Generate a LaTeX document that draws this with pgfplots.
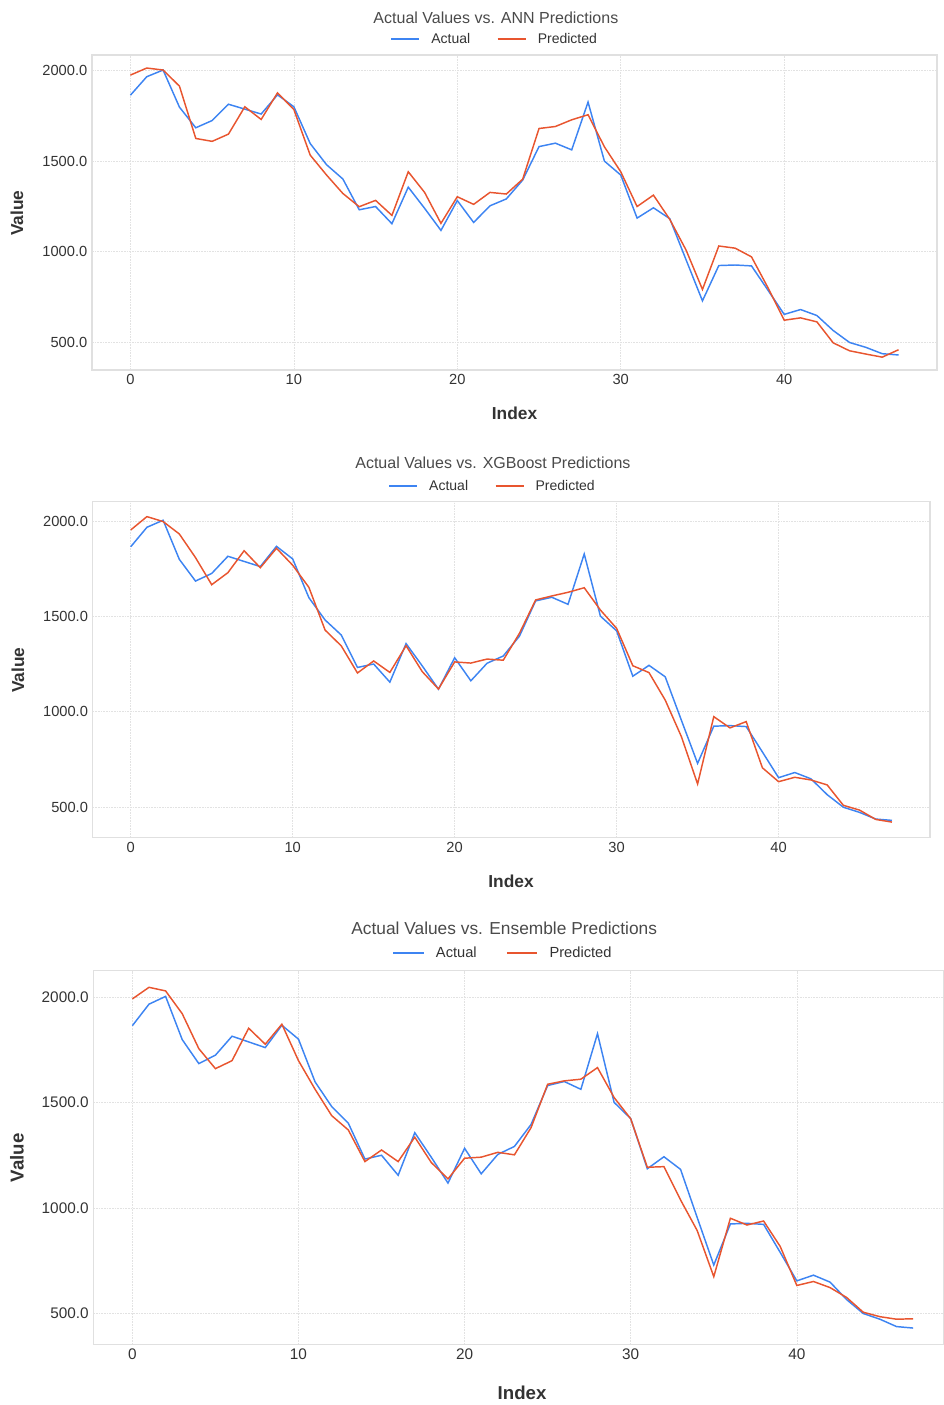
\documentclass[border=0pt]{standalone}
\usepackage{fontspec}
\setmainfont{Liberation Sans}
\usepackage{pgfplots}
\usepackage{pgfplotstable}
\pgfplotsset{compat=1.18}
\definecolor{actblue}{HTML}{3D84F2}
\definecolor{predred}{HTML}{E8552F}
\definecolor{gridgray}{HTML}{E2E2E2}
\definecolor{framegray}{HTML}{E0E0E0}
\definecolor{txtgray}{HTML}{333333}
\definecolor{titlegray}{HTML}{4A4A4A}

\pgfplotstableread{
idx actual ann xgb ens
0 1865 1976 1953 1992
1 1967 2015 2023 2047
2 2004 2004 1997 2030
3 1799 1915 1932 1922
4 1685 1626 1808 1756
5 1725 1610 1666 1661
6 1815 1650 1729 1699
7 1788 1801 1844 1853
8 1761 1731 1755 1777
9 1867 1878 1857 1872
10 1801 1786 1768 1699
11 1598 1534 1652 1563
12 1481 1424 1428 1438
13 1402 1322 1345 1370
14 1232 1249 1203 1220
15 1250 1284 1266 1275
16 1155 1201 1206 1220
17 1357 1442 1346 1336
18 1240 1328 1210 1215
19 1118 1157 1119 1138
20 1283 1304 1261 1236
21 1162 1262 1255 1241
22 1254 1328 1276 1264
23 1292 1319 1270 1252
24 1396 1401 1411 1381
25 1581 1681 1586 1587
26 1600 1692 1607 1603
27 1563 1729 1626 1611
28 1827 1757 1650 1666
29 1501 1580 1533 1524
30 1424 1442 1437 1423
31 1186 1250 1241 1193
32 1243 1313 1205 1196
33 1183 1179 1061 1038
34 955 1009 869 893
35 729 792 621 674
36 924 1032 974 951
37 927 1020 915 919
38 922 972 948 938
39 789 803 706 817
40 654 622 633 632
41 681 635 656 651
42 648 613 642 622
43 565 497 616 575
44 499 453 509 505
45 472 435 484 484
46 437 418 435 472
47 430 459 421 474
}\datatable

\pgfplotsset{
  mystyle/.style={
    scale only axis,
    xmin=-2.35, xmax=49.35,
    xtick={0,10,20,30,40},
    ytick={500,1000,1500,2000},
    grid=major,
    major grid style={gridgray, line width=0.5pt, dash pattern=on 1.2pt off 0.8pt},
    axis line style={framegray, line width=1pt},
    major tick length=0pt,
    every axis title shift=0pt,
    tick label style={font=\fontsize{11}{13}\selectfont, text=txtgray},
    /pgf/number format/assume math mode=true,
    y tick label style={/pgf/number format/.cd, fixed, fixed zerofill, precision=1, 1000 sep={}},
    xlabel={Index},
    ylabel={Value},
    label style={font=\fontsize{13}{15}\selectfont\bfseries, text=txtgray},
    legend cell align=left,
    legend image code/.code={\draw[#1] (0pt,0pt) -- (21pt,0pt);},
    every axis plot/.append style={line width=1.1pt},
  }
}

\begin{document}
\begin{tikzpicture}
\useasboundingbox (0,0) rectangle (708pt,-1053.75pt);

% ---------- ANN ----------
\begin{axis}[mystyle,
  at={(69pt,-41.25pt)}, anchor=north west,
  width=633.75pt, height=236.25pt,
  ymin=347, ymax=2087,
  title={Actual Values vs. ANN Predictions},
  title style={at={(axis description cs:0.478,1.117)}, anchor=center, font=\fontsize{12}{14}\selectfont, text=titlegray},
  xlabel style={at={(axis description cs:0.5,-0.137)}, anchor=center},
  ylabel style={at={(axis description cs:-0.0888,0.498)}, anchor=center},
  legend style={at={(axis description cs:0.477,1.051)}, anchor=center, draw=none, fill=none,
    legend columns=2, font=\fontsize{10.5}{12}\selectfont, text=txtgray,
    /tikz/every odd column/.append style={column sep=6.5pt},
    /tikz/every even column/.append style={column sep=18pt}},
]
\addplot[actblue] table[x=idx, y=actual] {\datatable};
\addlegendentry{Actual}
\addplot[predred] table[x=idx, y=ann] {\datatable};
\addlegendentry{Predicted}
\end{axis}

% ---------- XGBoost ----------
\begin{axis}[mystyle,
  at={(69.5pt,-376.3pt)}, anchor=north west,
  width=628pt, height=252pt,
  ymin=339, ymax=2101,
  title={Actual Values vs. XGBoost Predictions},
  title style={at={(axis description cs:0.478,1.115)}, anchor=center, font=\fontsize{12}{14}\selectfont, text=titlegray},
  xlabel style={at={(axis description cs:0.4996,-0.129)}, anchor=center},
  ylabel style={at={(axis description cs:-0.0892,0.499)}, anchor=center},
  legend style={at={(axis description cs:0.478,1.047)}, anchor=center, draw=none, fill=none,
    legend columns=2, font=\fontsize{10.5}{12}\selectfont, text=txtgray,
    /tikz/every odd column/.append style={column sep=6.5pt},
    /tikz/every even column/.append style={column sep=18pt}},
]
\addplot[actblue] table[x=idx, y=actual] {\datatable};
\addlegendentry{Actual}
\addplot[predred] table[x=idx, y=xgb] {\datatable};
\addlegendentry{Predicted}
\end{axis}

% ---------- Ensemble ----------
\begin{axis}[mystyle,
  at={(70pt,-728pt)}, anchor=north west,
  width=638pt, height=280.2pt,
  xmax=48.86,
  ymin=353, ymax=2126,
  title={Actual Values vs. Ensemble Predictions},
  title style={at={(axis description cs:0.483,1.114)}, anchor=center, font=\fontsize{13}{15}\selectfont, text=titlegray},
  tick label style={font=\fontsize{11.5}{13}\selectfont},
  label style={font=\fontsize{14}{16}\selectfont\bfseries},
  xlabel style={at={(axis description cs:0.504,-0.130)}, anchor=center},
  ylabel style={at={(axis description cs:-0.0897,0.499)}, anchor=center},
  legend style={at={(axis description cs:0.482,1.047)}, anchor=center, draw=none, fill=none,
    legend columns=2, font=\fontsize{11}{13}\selectfont, text=txtgray,
    /tikz/every odd column/.append style={column sep=6.5pt},
    /tikz/every even column/.append style={column sep=20pt}},
  legend image code/.code={\draw[#1] (0pt,0pt) -- (23pt,0pt);},
]
\addplot[actblue] table[x=idx, y=actual] {\datatable};
\addlegendentry{Actual}
\addplot[predred] table[x=idx, y=ens] {\datatable};
\addlegendentry{Predicted}
\end{axis}
\end{tikzpicture}
\end{document}
